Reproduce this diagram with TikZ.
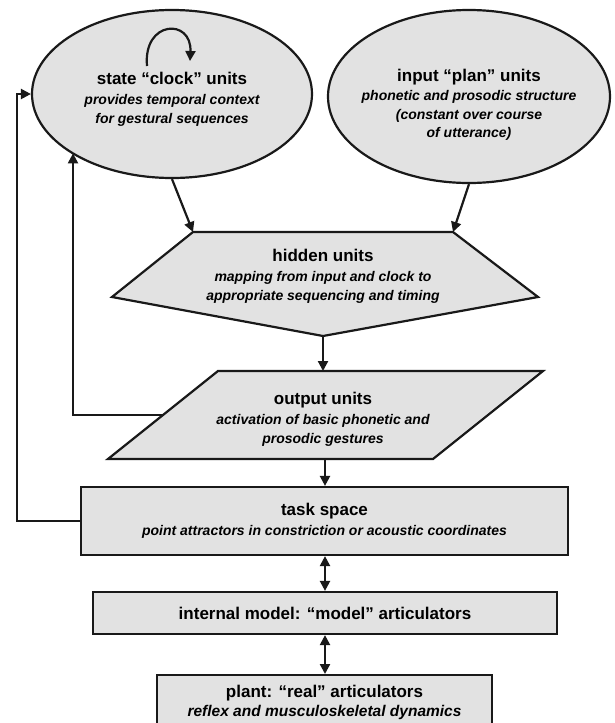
\documentclass[tikz,border=0pt]{standalone}
\usepackage{fontspec}
\setmainfont{Liberation Sans}
\usetikzlibrary{shapes.geometric,arrows.meta,calc}
\definecolor{boxfill}{RGB}{226,226,226}
\definecolor{inkline}{RGB}{25,25,25}
\newcommand{\ttl}[1]{{\fontsize{17}{20}\selectfont\bfseries\upshape #1}}
\tikzset{
  shapefill/.style={draw=inkline, line width=2.2pt, fill=boxfill},
  arr/.style={draw=inkline, line width=2.2pt, -{Triangle[length=10pt,width=10pt]}},
  darr/.style={draw=inkline, line width=2.2pt, {Triangle[length=10pt,width=10pt]}-{Triangle[length=10pt,width=10pt]}},
  txt/.style={align=center, inner sep=0pt, text=black,
    font=\fontsize{14}{18.5}\selectfont\bfseries\itshape},
  rbox/.style={shapefill, inner sep=0pt, align=center, text=black,
    font=\fontsize{14}{18.5}\selectfont\bfseries\itshape},
}
\begin{document}
\begin{tikzpicture}[x=1pt,y=-1pt]
\useasboundingbox (0,0) rectangle (615,723);
\fill[white] (0,0) rectangle (615,723);

% ellipses
\node[ellipse, shapefill, minimum width=280pt, minimum height=168pt, inner sep=0pt] (clock) at (172,94) {};
\node[ellipse, shapefill, minimum width=282pt, minimum height=173pt, inner sep=0pt] (plan) at (469,96.5) {};
\node[txt] (clocktxt) at (172,99) {\ttl{state “clock” units}\\[2pt]provides temporal context\\for gestural sequences};
\node[txt] (plantxt) at (469,105) {\ttl{input “plan” units}\\[1pt]phonetic and prosodic structure\\(constant over course\\of utterance)};

% clock self loop
\coordinate (loopA) at (147,66);
\coordinate (loopB) at (190,61);
\draw[arr] (loopA) .. controls (143,20) and (192,18) .. (loopB);

% hidden units pentagon
\coordinate (hidTL) at (193,232);
\coordinate (hidTR) at (453,232);
\coordinate (hidR) at (538,297);
\coordinate (hidB) at (323,336);
\coordinate (hidL) at (112,297);
\draw[shapefill, line join=miter] (hidTL) -- (hidTR) -- (hidR) -- (hidB) -- (hidL) -- cycle;
\node[txt] (hidtxt) at (323,276) {\ttl{hidden units}\\[2pt]mapping from input and clock to\\appropriate sequencing and timing};

% output parallelogram
\coordinate (outTL) at (218,371);
\coordinate (outTR) at (543,371);
\coordinate (outBR) at (433,459);
\coordinate (outBL) at (108,459);
\draw[shapefill, line join=miter] (outTL) -- (outTR) -- (outBR) -- (outBL) -- cycle;
\node[txt] (outtxt) at (323,419) {\ttl{output units}\\[2pt]activation of basic phonetic and\\prosodic gestures};
\coordinate (outTop) at (323,371);
\coordinate (outBot) at (325,459);
\coordinate (outFb) at ($(outTL)!0.5!(outBL)$);

% rectangles
\node[rbox, minimum width=487pt, minimum height=68pt] (task) at (324.5,521) {\ttl{task space}\\[1pt]point attractors in constriction or acoustic coordinates};
\node[rbox, minimum width=464pt, minimum height=42pt] (internal) at (325,613) {\ttl{internal model: “model” articulators}};
\node[rbox, minimum width=335pt, minimum height=52pt, anchor=north] (plant) at (324.5,674) {};
\node[txt, font=\fontsize{15.5}{19}\selectfont\bfseries\itshape] (planttxt) at (324.5,702) {\ttl{plant: “real” articulators}\\reflex and musculoskeletal dynamics};

% connectors
\draw[arr] (clock.south) -- (hidTL);
\draw[arr] (plan.south) -- (hidTR);
\draw[arr] (hidB) -- (outTop);
\draw[arr] (outBot) -- (outBot |- task.north);
\draw[darr] (task.south -| outBot) -- (internal.north -| outBot);
\draw[darr] (internal.south -| outBot) -- (plant.north -| outBot);

\coordinate (clockFb) at (73,153.4);
\draw[arr] (outFb) -- (outFb -| clockFb) -- (clockFb);
\coordinate (outerX) at (17,521);
\draw[arr] (task.west) -- (outerX) |- (clock.west);
\end{tikzpicture}
\end{document}
